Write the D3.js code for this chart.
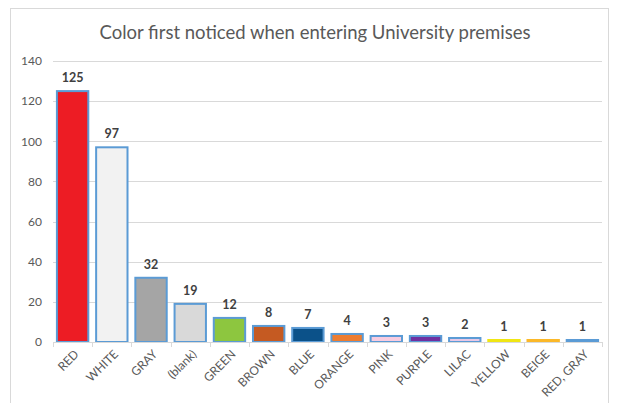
<!DOCTYPE html>
<html>
<head>
<meta charset="utf-8">
<script src="https://cdn.jsdelivr.net/npm/d3@7"></script>
<style>
  body { margin: 0; background: #fff; }
  svg { font-family: Lato, "Open Sans", sans-serif; }
</style>
</head>
<body>
<svg></svg>
<script>
let categories = ["RED", "WHITE", "GRAY", "(blank)", "GREEN", "BROWN", "BLUE", "ORANGE", "PINK", "PURPLE", "LILAC", "YELLOW", "BEIGE", "RED, GRAY"];
let counts = [125, 97, 32, 19, 12, 8, 7, 4, 3, 3, 2, 1, 1, 1];
let fills = ["#ED1C24", "#F2F2F2", "#A5A5A5", "#D9D9D9", "#8DC63F", "#C55A22", "#0B5189", "#ED7D31", "#F8CCE0", "#7030A0", "#E8C8E6", "#F0E614", "#FBB829", "#5B9BD5"];
let yTicks = [0, 20, 40, 60, 80, 100, 120, 140];

let width = 617;
let height = 403;
let svg = d3.select("svg")
            .attr("width", width)
            .attr("height", height);

// chart frame
svg.append("rect")
    .attr("x", 10.5).attr("y", 8.5)
    .attr("width", 598).attr("height", 400)
    .attr("fill", "#fff")
    .attr("stroke", "#d9d9d9");

svg.append("text")
    .attr("x", 315).attr("y", 39)
    .attr("text-anchor", "middle")
    .attr("font-size", 18.5)
    .attr("fill", "#595959")
    .text("Color first noticed when entering University premises");

let x = d3.scaleBand()
    .domain(categories)
    .range([53, 602])
    .paddingInner(0.2)
    .paddingOuter(0.1);

let y = d3.scaleLinear()
    .domain([0, 140])
    .range([342, 61]);

// gridlines
svg.append("g")
    .selectAll("line")
    .data(yTicks.slice(1))
    .enter()
    .append("line")
    .attr("x1", 53).attr("x2", 602)
    .attr("y1", d => Math.round(y(d)) + 0.5)
    .attr("y2", d => Math.round(y(d)) + 0.5)
    .attr("stroke", "#d9d9d9");

let yAxis = svg.append("g")
    .attr("transform", "translate(53,0)")
    .call(d3.axisLeft(y).tickValues(yTicks).tickSize(0).tickPadding(11));
yAxis.select(".domain").remove();
yAxis.selectAll("text")
    .attr("font-size", 12)
    .attr("font-family", "Lato, sans-serif")
    .attr("fill", "#595959");

// bars - the last three (single answers) have no blue outline
let outlined = 11;
svg.append("g")
    .selectAll("rect")
    .data(counts)
    .enter()
    .append("rect")
    .attr("x", (d, i) => x(categories[i]))
    .attr("y", d => y(d))
    .attr("width", x.bandwidth())
    .attr("height", d => y(0) - y(d))
    .attr("fill", (d, i) => fills[i])
    .attr("stroke", (d, i) => i < outlined ? "#5B9BD5" : fills[i])
    .attr("stroke-width", 2);

// value labels
svg.append("g")
    .selectAll("text")
    .data(counts)
    .enter()
    .append("text")
    .attr("x", (d, i) => x(categories[i]) + x.bandwidth() / 2)
    .attr("y", d => y(d) - 9)
    .attr("text-anchor", "middle")
    .attr("font-size", 12.5)
    .attr("font-weight", "bold")
    .attr("fill", "#404040")
    .text(d => d);

// x axis line and ticks
let step = x.step();
let x0 = 53;
svg.append("line")
    .attr("x1", x0).attr("x2", 602)
    .attr("y1", 342.5).attr("y2", 342.5)
    .attr("stroke", "#d9d9d9");
svg.append("g")
    .selectAll("line")
    .data(d3.range(categories.length + 1))
    .enter()
    .append("line")
    .attr("x1", i => Math.round(x0 + i * step) + 0.5)
    .attr("x2", i => Math.round(x0 + i * step) + 0.5)
    .attr("y1", 342).attr("y2", 347)
    .attr("stroke", "#d9d9d9");

// category labels
svg.append("g")
    .selectAll("text")
    .data(categories)
    .enter()
    .append("text")
    .attr("transform", d => `translate(${x(d) + x.bandwidth() / 2 + 4},${352}) rotate(-45)`)
    .attr("text-anchor", "end")
    .attr("dy", "0.35em")
    .attr("font-size", 12)
    .attr("fill", "#595959")
    .text(d => d);
</script>
</body>
</html>
